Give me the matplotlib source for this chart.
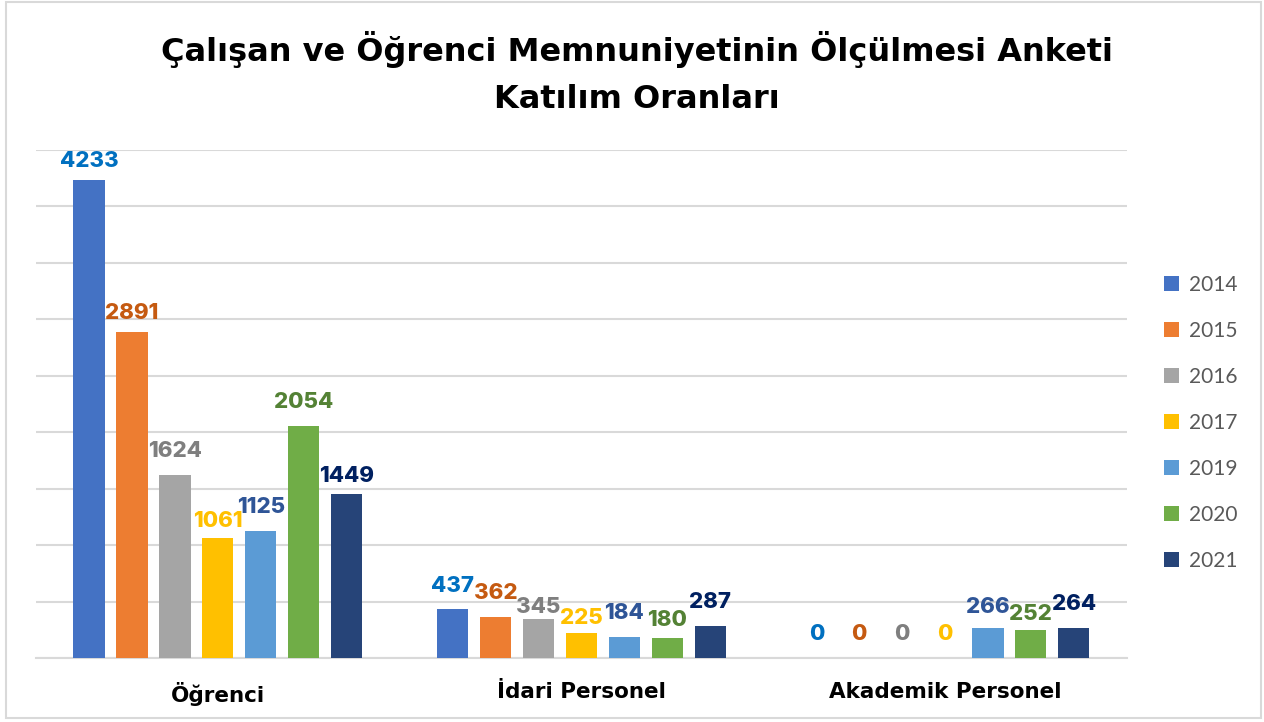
import numpy as np
import matplotlib.pyplot as plt
from matplotlib.patches import Rectangle

plt.rcParams['font.family'] = ['DejaVu Sans']

categories = ['Öğrenci', 'İdari Personel', 'Akademik Personel']
years = ['2014', '2015', '2016', '2017', '2019', '2020', '2021']
values = {
    '2014': [4233, 437, 0],
    '2015': [2891, 362, 0],
    '2016': [1624, 345, 0],
    '2017': [1061, 225, 0],
    '2019': [1125, 184, 266],
    '2020': [2054, 180, 252],
    '2021': [1449, 287, 264],
}
bar_colors = ['#4472C4', '#ED7D31', '#A5A5A5', '#FFC000', '#5B9BD5', '#70AD47', '#264478']
label_colors = ['#0070C0', '#C55A11', '#7F7F7F', '#FFC000', '#2F5597', '#548235', '#002060']
# gap (px) between bar top and label baseline, as placed in the original
label_gap = [[13, 17, 18], [13, 18, 18], [18, 6, 18], [11, 9, 18],
             [18, 18, 15], [18, 12, 10], [12, 18, 18]]

fig = plt.figure(figsize=(12.64, 7.22), dpi=100)
ax = fig.add_axes([0.0285, 0.0886, 0.863, 0.7036])

x = np.arange(len(categories))
step = 0.118
width = 0.086
for i, yr in enumerate(years):
    pos = x + (i - 3) * step
    ax.bar(pos, values[yr], width, color=bar_colors[i], label=yr, zorder=3)
    for j, (px, v) in enumerate(zip(pos, values[yr])):
        ax.annotate(str(v), (px, v), xytext=(0, label_gap[i][j] * 0.72),
                    textcoords='offset points', ha='center', va='baseline',
                    fontsize=16, fontweight='heavy', family=['Inter', 'DejaVu Sans'],
                    color=label_colors[i], zorder=4)

ax.set_xlim(-0.5, 2.5)
ax.set_ylim(0, 4500)
ax.set_yticks(np.arange(0, 4501, 500))
ax.yaxis.grid(True, color='#D9D9D9', linewidth=1.5, zorder=0)
ax.tick_params(axis='y', left=False, labelleft=False)
ax.tick_params(axis='x', bottom=False, pad=14)
ax.set_xticks(x)
ax.set_xticklabels(categories, fontsize=15.5, fontweight='bold', color='black')
for s in ['top', 'right', 'left']:
    ax.spines[s].set_visible(False)
ax.spines['bottom'].set_color('#D9D9D9')
ax.spines['bottom'].set_linewidth(1.5)

fig.text(0.504, 0.899, 'Çalışan ve Öğrenci Memnuniyetinin Ölçülmesi Anketi\nKatılım Oranları',
         ha='center', va='center', fontsize=23, fontweight='bold', linespacing=1.7)

ax.legend(loc='center left', bbox_to_anchor=(1.017, 0.463), frameon=False,
          prop={'family': 'Lato', 'size': 15}, labelcolor='#595959',
          handlelength=0.7, handleheight=0.7,
          labelspacing=1.25, handletextpad=0.5)

fig.add_artist(Rectangle((0.005, 0.006), 0.993, 0.991, transform=fig.transFigure,
                         fill=False, edgecolor='#D9D9D9', linewidth=1.5))

fig.savefig('out.png', dpi=100)
